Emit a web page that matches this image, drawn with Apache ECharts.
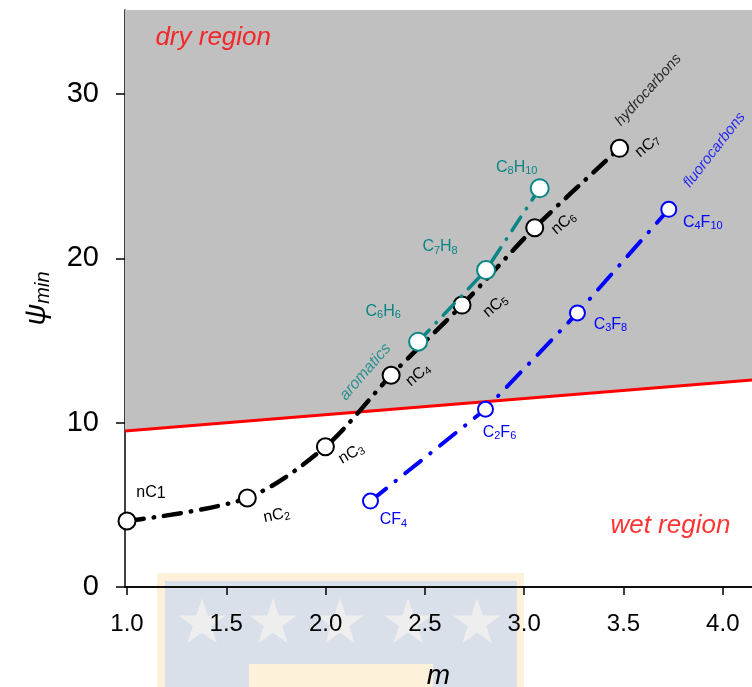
<!DOCTYPE html>
<html>
<head>
<meta charset="utf-8">
<script src="https://cdn.jsdelivr.net/npm/echarts@6/dist/echarts.min.js"></script>
<style>
  html, body { margin: 0; padding: 0; background: #fff; }
  #chart { width: 752px; height: 687px; }
</style>
</head>
<body>
<div id="chart"></div>
<script>
// hydrocarbons nC1..nC7
const hcSub = ['1', '2', '3', '4', '5', '6', '7'];
const hcX = [1.0, 1.606, 1.999, 2.33, 2.687, 3.053, 3.48];
const hcY = [4.02, 5.42, 8.54, 12.89, 17.16, 21.87, 26.70];
// aromatics C6H6, C7H8, C8H10
const aroC = ['6', '7', '8'];
const aroH = ['6', '8', '10'];
const aroX = [2.466, 2.808, 3.078];
const aroY = [14.93, 19.29, 24.27];
// fluorocarbons CF4 .. C4F10
const fcC = ['', '2', '3', '4'];
const fcF = ['4', '6', '8', '10'];
const fcX = [2.226, 2.805, 3.268, 3.728];
const fcY = [5.23, 10.82, 16.68, 22.99];
// dry / wet boundary
const boundaryX = [0.99, 4.147];
const boundaryY = [9.49, 12.6];
// axes
const xTicks = [1.0, 1.5, 2.0, 2.5, 3.0, 3.5, 4.0];
const yTicks = [0, 10, 20, 30];

const FONT = 'Liberation Sans, Arial, sans-serif';
const TEAL = '#0a8585';
const BLUE = '#0000ff';
const RED = '#ff0000';

// label placement (pixels relative to marker, degrees)
const hcLabelOffset = [[24, -28], [25, 23], [19, 19], [21, 17], [25, 22], [25, 15], [23, 16]];
const hcLabelRotate = [0, 12, 30, 40, 40, 40, 40];
const aroLabelOffset = [[-35, -30], [-46, -23], [-23, -21]];
const fcLabelOffset = [[23, 19], [14, 23], [33, 12], [34, 13]];

function subRich(color) {
    return {
        m: { fontSize: 16, color: color, fontFamily: FONT, lineHeight: 18 },
        s: { fontSize: 11, color: color, fontFamily: FONT, lineHeight: 12, verticalAlign: 'bottom', padding: [8, 0, 0, 0] }
    };
}

const chartDom = document.getElementById('chart');
const myChart = echarts.init(chartDom, null, { renderer: 'canvas' });

const hcData = hcX.map((x, i) => ({
    value: [x, hcY[i]],
    label: {
        formatter: i === 0 ? '{m|nC}{b|1}' : '{m|nC}{s|' + hcSub[i] + '}',
        offset: hcLabelOffset[i],
        rotate: hcLabelRotate[i]
    }
}));
const aroData = aroX.map((x, i) => ({
    value: [x, aroY[i]],
    label: {
        formatter: '{m|C}{s|' + aroC[i] + '}{m|H}{s|' + aroH[i] + '}',
        offset: aroLabelOffset[i]
    }
}));
const fcData = fcX.map((x, i) => ({
    value: [x, fcY[i]],
    label: {
        formatter: '{m|C}' + (fcC[i] ? '{s|' + fcC[i] + '}' : '') + '{m|F}{s|' + fcF[i] + '}',
        offset: fcLabelOffset[i]
    }
}));

const annotations = [
    { text: 'hydrocarbons', x: 3.625, y: 30.25, rotate: 48, color: '#000', size: 15, align: 'center' },
    { text: 'fluorocarbons', x: 3.958, y: 26.6, rotate: 52, color: BLUE, size: 15, align: 'center' },
    { text: 'aromatics', x: 2.2, y: 13.09, rotate: 49, color: TEAL, size: 16, align: 'center' },
    { text: 'dry region', x: 1.143, y: 33.4, rotate: 0, color: RED, size: 26, align: 'left' },
    { text: 'wet region', x: 3.434, y: 3.71, rotate: 0, color: RED, size: 26, align: 'left' }
];

const watermark = [
    { type: 'rect', z: -10, shape: { x: 157, y: 573, width: 367, height: 120 }, style: { fill: '#fdf1da' } },
    { type: 'rect', z: -10, shape: { x: 165, y: 581, width: 352, height: 110 }, style: { fill: '#d9e0ea' } },
    { type: 'rect', z: -10, shape: { x: 249, y: 664, width: 184, height: 30 }, style: { fill: '#fdf1da' } }
];
[202, 273, 340, 408, 477].forEach(cx => {
    watermark.push({
        type: 'text', z: -9, x: cx, y: 627,
        style: { text: '★', fontSize: 62, fill: '#eeeeee', align: 'center', verticalAlign: 'middle', fontFamily: 'DejaVu Sans' }
    });
});

const option = {
    animation: false,
    backgroundColor: '#fff',
    textStyle: { fontFamily: FONT },
    grid: { left: 125, right: 0, top: 10, bottom: 100, containLabel: false, outerBoundsMode: 'none' },
    graphic: watermark,
    xAxis: [{
        type: 'value',
        min: 0.99,
        max: 4.147,
        name: 'm',
        nameLocation: 'middle',
        nameGap: 75,
        nameTextStyle: { fontSize: 28, fontStyle: 'italic', color: '#000', fontFamily: FONT },
        splitLine: { show: false },
        axisLine: { show: true, onZero: false, lineStyle: { color: '#000', width: 1.5 } },
        axisTick: { show: true, length: 8, customValues: xTicks, lineStyle: { color: '#000', width: 1.5 } },
        axisLabel: {
            customValues: xTicks,
            margin: 25,
            fontSize: 24,
            color: '#000',
            fontFamily: FONT,
            formatter: v => v.toFixed(1)
        }
    }, {
        type: 'value',
        position: 'top',
        min: 0.99,
        max: 4.147,
        splitLine: { show: false },
        axisLine: { show: true, lineStyle: { color: '#000', width: 1.5 } },
        axisTick: { show: false },
        axisLabel: { show: false }
    }],
    yAxis: {
        type: 'value',
        min: 0,
        max: 35.12,
        name: '{p|ψ}{s|min}',
        nameLocation: 'middle',
        nameGap: 72,
        nameTextStyle: {
            rich: {
                p: { fontSize: 30, fontStyle: 'italic', color: '#000', fontFamily: FONT, lineHeight: 32 },
                s: { fontSize: 20, fontStyle: 'italic', color: '#000', fontFamily: FONT, lineHeight: 20, verticalAlign: 'bottom', padding: [12, 0, 0, 0] }
            }
        },
        splitLine: { show: false },
        axisLine: { show: true, onZero: false, lineStyle: { color: '#000', width: 1.5 } },
        axisTick: { show: true, length: 9, customValues: yTicks, lineStyle: { color: '#000', width: 1.5 } },
        axisLabel: { customValues: yTicks, margin: 26, fontSize: 29, color: '#000', fontFamily: FONT }
    },
    series: [{
        name: 'boundary',
        type: 'line',
        data: boundaryX.map((x, i) => [x, boundaryY[i]]),
        symbol: 'none',
        silent: true,
        z: 1,
        lineStyle: { color: RED, width: 3 },
        areaStyle: { color: '#c0c0c0', opacity: 1, origin: 'end' }
    }, {
        name: 'hydrocarbons',
        type: 'line',
        data: hcData,
        smooth: 0.3,
        z: 3,
        symbol: 'circle',
        symbolSize: 17,
        itemStyle: { color: '#fff', borderColor: '#000', borderWidth: 2 },
        lineStyle: { color: '#000', width: 4.5, type: [17, 10, 0.5, 10], cap: 'round' },
        label: { show: true, position: 'inside', rich: Object.assign(subRich('#000'), { b: { fontSize: 16, color: '#000', fontFamily: FONT, lineHeight: 18, verticalAlign: 'bottom', padding: [5, 0, 0, 0] } }) }
    }, {
        name: 'aromatics',
        type: 'line',
        data: aroData,
        z: 4,
        symbol: 'circle',
        symbolSize: 18,
        itemStyle: { color: '#fff', borderColor: TEAL, borderWidth: 2 },
        lineStyle: { color: TEAL, width: 3.5, type: [16, 10, 0.5, 10], cap: 'round' },
        label: { show: true, position: 'inside', rich: subRich(TEAL) }
    }, {
        name: 'fluorocarbons',
        type: 'line',
        data: fcData,
        z: 3,
        symbol: 'circle',
        symbolSize: 15,
        itemStyle: { color: '#fff', borderColor: BLUE, borderWidth: 2 },
        lineStyle: { color: BLUE, width: 4, type: [20, 12, 0.5, 12], cap: 'round' },
        label: { show: true, position: 'inside', rich: subRich(BLUE) }
    }, {
        name: 'annotations',
        type: 'scatter',
        silent: true,
        symbolSize: 0,
        z: 5,
        data: annotations.map(a => ({
            value: [a.x, a.y],
            label: {
                show: true,
                position: 'inside',
                formatter: a.text,
                rotate: a.rotate,
                color: a.color,
                fontSize: a.size,
                fontStyle: 'italic',
                fontFamily: FONT,
                align: a.align
            }
        }))
    }]
};
myChart.setOption(option);
</script>
</body>
</html>
